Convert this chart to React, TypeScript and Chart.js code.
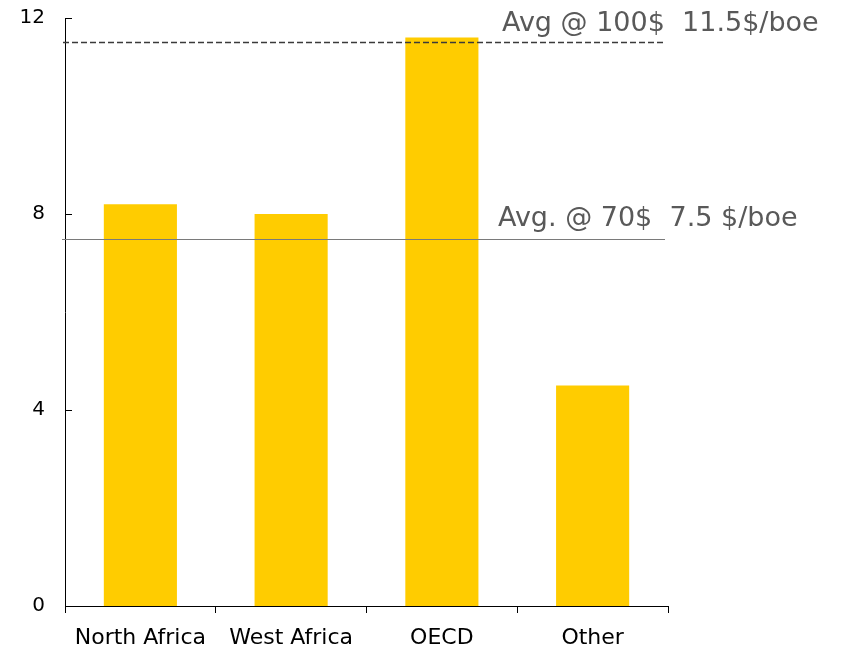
import React, { useEffect, useRef } from "react";
import { Chart, registerables } from "chart.js";

Chart.register(...registerables);

const categories = ["North Africa", "West Africa", "OECD", "Other"];
const costPerBoe = [8.2, 8.0, 11.6, 4.5];
const yTicks = [0, 4, 8, 12];
const avgAt100 = 11.5;
const avgAt70 = 7.5;
const avgAt100Label = "Avg @ 100$  11.5$/boe";
const avgAt70Label = "Avg. @ 70$  7.5 $/boe";

const FONT = "'DejaVu Sans', Verdana, sans-serif";

// Reference lines, inward y-axis ticks and their captions
const overlayPlugin = {
  id: "avgOverlay",
  afterDatasetsDraw(chart: any) {
    const { ctx, chartArea, scales } = chart;
    const y = scales.y;
    ctx.save();

    // inward tick marks on the value axis
    ctx.strokeStyle = "#000000";
    ctx.lineWidth = 1;
    yTicks.forEach((v) => {
      const py = Math.round(y.getPixelForValue(v)) + 0.5;
      ctx.beginPath();
      ctx.moveTo(chartArea.left, py);
      ctx.lineTo(chartArea.left + 7, py);
      ctx.stroke();
    });

    // dashed average line at $100
    const y100 = Math.round(y.getPixelForValue(avgAt100)) + 0.5;
    ctx.strokeStyle = "#3a3a3a";
    ctx.lineWidth = 1.5;
    ctx.setLineDash([6, 3]);
    ctx.beginPath();
    ctx.moveTo(chartArea.left - 2, y100);
    ctx.lineTo(chartArea.right - 3, y100);
    ctx.stroke();

    // solid average line at $70
    const y70 = Math.round(y.getPixelForValue(avgAt70)) + 0.5;
    ctx.setLineDash([]);
    ctx.strokeStyle = "#7a7a7a";
    ctx.lineWidth = 1.2;
    ctx.beginPath();
    ctx.moveTo(chartArea.left - 3, y70);
    ctx.lineTo(chartArea.right - 3, y70);
    ctx.stroke();

    // captions
    ctx.fillStyle = "#595959";
    ctx.font = `27px ${FONT}`;
    ctx.textAlign = "left";
    ctx.textBaseline = "alphabetic";
    ctx.fillText(avgAt100Label, 502, y100 - 12);
    ctx.fillText(avgAt70Label, 498, y70 - 14);

    ctx.restore();
  },
};

export default function App() {
  const canvasRef = useRef<HTMLCanvasElement | null>(null);

  useEffect(() => {
    if (!canvasRef.current) return;
    const chart = new Chart(canvasRef.current, {
      type: "bar",
      data: {
        labels: categories,
        datasets: [
          {
            label: "Cost",
            data: costPerBoe,
            backgroundColor: "#FFCC00",
            borderWidth: 0,
            categoryPercentage: 1,
            barPercentage: 0.485,
          },
        ],
      },
      options: {
        responsive: false,
        animation: false,
        layout: { padding: { top: 18, right: 174, left: 0, bottom: 0 } },
        plugins: {
          legend: { display: false },
          tooltip: { enabled: false },
        },
        scales: {
          x: {
            offset: true,
            grid: {
              display: true,
              drawOnChartArea: false,
              offset: true,
              tickLength: 7,
              color: "#000000",
              lineWidth: 1,
            },
            border: { display: true, color: "#000000", width: 1 },
            ticks: {
              color: "#000000",
              font: { family: FONT, size: 22 },
              padding: 12,
              maxRotation: 0,
            },
            afterFit: (scale: any) => {
              scale.height = 43;
            },
          },
          y: {
            min: 0,
            max: 12,
            grid: { display: false, drawTicks: false },
            border: { display: true, color: "#000000", width: 1 },
            ticks: {
              stepSize: 4,
              color: "#000000",
              font: { family: FONT, size: 20 },
              padding: 20,
            },
            afterFit: (scale: any) => {
              scale.width = 65;
              scale.paddingTop = 0;
              scale.paddingBottom = 0;
            },
          },
        },
      },
      plugins: [overlayPlugin],
    });
    return () => chart.destroy();
  }, []);

  return (
    <div style={{ position: "fixed", left: 0, top: 0, width: 842, height: 649, background: "#ffffff" }}>
      <canvas ref={canvasRef} width={842} height={649} style={{ display: "block" }} />
    </div>
  );
}
